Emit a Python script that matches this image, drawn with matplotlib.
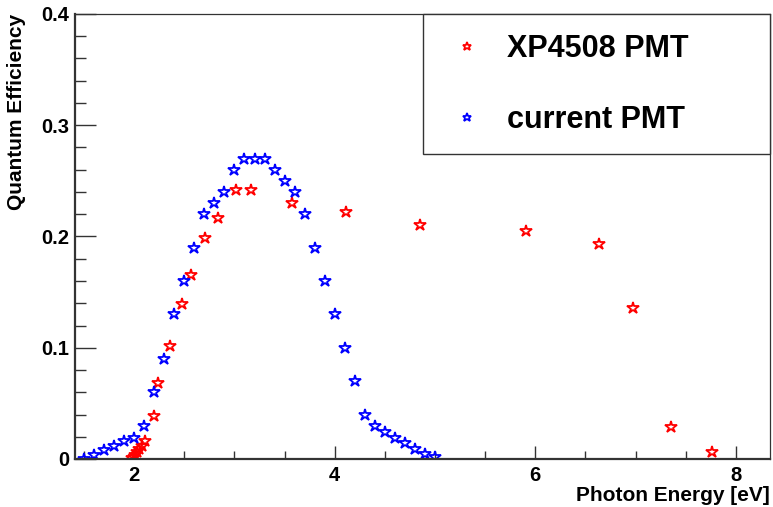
import matplotlib
matplotlib.use("Agg")
import matplotlib.pyplot as plt
from matplotlib.ticker import MultipleLocator, FuncFormatter

plt.rcParams['font.family'] = ['Liberation Sans', 'DejaVu Sans']

# XP4508 PMT
xp_energy = [1.98, 2.00, 2.01, 2.03, 2.05, 2.08, 2.11, 2.20, 2.24, 2.36, 2.48, 2.57,
             2.71, 2.84, 3.02, 3.16, 3.57, 4.11, 4.85, 5.91, 6.63, 6.97, 7.35, 7.76]
xp_qe = [0.001, 0.002, 0.004, 0.006, 0.009, 0.012, 0.016, 0.039, 0.068, 0.102, 0.139, 0.165,
         0.199, 0.217, 0.242, 0.242, 0.230, 0.222, 0.210, 0.205, 0.193, 0.136, 0.029, 0.006]

# current PMT
cur_energy = [1.5, 1.6, 1.7, 1.8, 1.9, 2.0, 2.1, 2.2, 2.3, 2.4, 2.5, 2.6, 2.7, 2.8, 2.9,
              3.0, 3.1, 3.2, 3.3, 3.4, 3.5, 3.6, 3.7, 3.8, 3.9, 4.0, 4.1, 4.2, 4.3, 4.4,
              4.5, 4.6, 4.7, 4.8, 4.9, 5.0]
cur_qe = [0.000, 0.004, 0.008, 0.012, 0.016, 0.019, 0.030, 0.060, 0.090, 0.130, 0.160, 0.190,
          0.220, 0.230, 0.240, 0.260, 0.270, 0.270, 0.270, 0.260, 0.250, 0.240, 0.220, 0.190,
          0.160, 0.130, 0.100, 0.070, 0.040, 0.030, 0.024, 0.019, 0.014, 0.009, 0.0045, 0.0015]

labels = ["XP4508 PMT", "current PMT"]

W, H = 773, 507
fig = plt.figure(figsize=(W / 100, H / 100), dpi=100)
L, R, T, B = 75, 770, 14, 459
ax = fig.add_axes([L / W, 1 - B / H, (R - L) / W, (B - T) / H])

mk = dict(marker='*', linestyle='none', markersize=9, markerfacecolor='none', markeredgewidth=1.3)
ax.plot(xp_energy, xp_qe, color='#ff0000', markeredgecolor='#ff0000', label=labels[0], **mk)
ax.plot(cur_energy, cur_qe, color='#0000ff', markeredgecolor='#0000ff', label=labels[1], **mk)

ax.set_xlim(1.41, 8.34)
ax.set_ylim(0, 0.4)

ax.xaxis.set_major_locator(MultipleLocator(2))
ax.xaxis.set_minor_locator(MultipleLocator(0.5))
ax.yaxis.set_major_locator(MultipleLocator(0.1))
ax.yaxis.set_minor_locator(MultipleLocator(0.02))
ax.yaxis.set_major_formatter(FuncFormatter(lambda v, p: f"{v:g}"))
ax.xaxis.set_major_formatter(FuncFormatter(lambda v, p: f"{v:g}"))

tc = '#333333'
ax.tick_params(axis='both', which='both', direction='in', top=False, right=False, colors=tc,
               labelcolor='black')
ax.tick_params(axis='y', which='major', length=15, width=1.0, pad=4)
ax.tick_params(axis='y', which='minor', length=8, width=1.0)
ax.tick_params(axis='x', which='major', length=9.5, width=1.0, pad=5)
ax.tick_params(axis='x', which='minor', length=5.8, width=1.0)
for lab in ax.get_xticklabels() + ax.get_yticklabels():
    lab.set_fontsize(14.5)
    lab.set_fontweight('bold')

for s in ['left', 'bottom']:
    ax.spines[s].set_linewidth(1.6)
    ax.spines[s].set_color(tc)
for s in ['top', 'right']:
    ax.spines[s].set_linewidth(0.9)
    ax.spines[s].set_color(tc)

fig.text(17 / W, 1 - T / H, "Quantum Efficiency", fontsize=15, fontweight='bold',
         rotation=90, ha='center', va='top')
fig.text(R / W, 1 - 501 / H, "Photon Energy [eV]", fontsize=15, fontweight='bold',
         ha='right', va='baseline')

leg = ax.legend(loc='upper left', bbox_to_anchor=(0.5007, 0.0, 0.4993, 1.0), mode='expand',
                borderaxespad=0, fancybox=False, framealpha=1, edgecolor='#333333',
                prop=dict(family='Liberation Sans', weight='bold', size=22),
                borderpad=0.65, labelspacing=1.33, handlelength=1.6, handletextpad=0.5,
                markerscale=0.7)
leg.get_frame().set_linewidth(1.0)

fig.savefig("out.png", dpi=100)
